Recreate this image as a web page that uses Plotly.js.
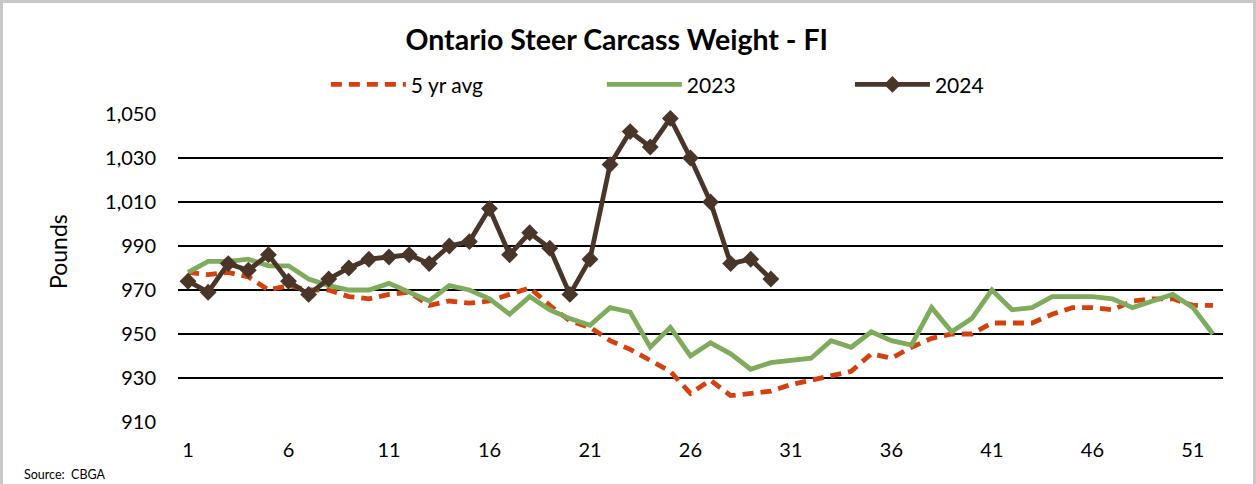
<!DOCTYPE html>
<html>
<head>
<meta charset="utf-8">
<script src="https://cdn.plot.ly/plotly-3.0.1.min.js"></script>
<style>
  html, body { margin: 0; padding: 0; background: #fff; }
  #wrap { position: relative; width: 1256px; height: 484px; }
  #chart { width: 1256px; height: 484px; }
  #frame { position: absolute; left: 0; top: 0; width: 1256px; height: 490px; box-sizing: border-box;
           border: 3px solid #c8c8c8; pointer-events: none; }
</style>
</head>
<body>
<div id="wrap"><div id="chart"></div><div id="frame"></div></div>
<script>
const weeks = Array.from({length: 52}, (_, i) => i + 1);
const fiveYrAvg = [978, 977, 978, 976, 970, 972, 970, 970, 967, 966,
                   968, 969, 963, 965, 964, 965, 968, 971, 963, 956,
                   953, 947, 943, 938, 933, 923, 929, 922, 923, 924,
                   927, 929, 931, 933, 941, 939, 944, 948, 950, 950,
                   955, 955, 955, 959, 962, 962, 961, 965, 966, 966, 963, 963];
const y2023 = [978, 983, 983, 984, 981, 981, 975, 972, 970, 970,
               973, 969, 965, 972, 970, 966, 959, 967, 961, 957,
               954, 962, 960, 944, 953, 940, 946, 941, 934, 937,
               938, 939, 947, 944, 951, 947, 945, 962, 951, 957,
               970, 961, 962, 967, 967, 967, 966, 962, 965, 968, 962, 950];
const y2024 = [974, 969, 982, 979, 986, 974, 968, 975, 980, 984,
               985, 986, 982, 990, 992, 1007, 986, 996, 989, 968,
               984, 1027, 1042, 1035, 1048, 1030, 1010, 982, 984, 975];
const xTicks = [1, 6, 11, 16, 21, 26, 31, 36, 41, 46, 51];
const yTicks = [910, 930, 950, 970, 990, 1010, 1030, 1050];
const seriesNames = ['5 yr avg', '2023', '2024'];

const FONT = 'Lato, sans-serif';

const traces = [
  {x: weeks, y: fiveYrAvg, name: seriesNames[0], type: 'scatter', mode: 'lines',
   line: {color: '#D5410E', width: 4.8, dash: '11px,7px'}, legend: 'legend', cliponaxis: false},
  {x: weeks, y: y2023, name: seriesNames[1], type: 'scatter', mode: 'lines',
   line: {color: '#7FAB5C', width: 4.8}, legend: 'legend2', cliponaxis: false},
  {x: weeks.slice(0, y2024.length), y: y2024, name: seriesNames[2], type: 'scatter', mode: 'lines+markers',
   line: {color: '#4A3628', width: 4.8}, marker: {symbol: 'diamond', size: 13, color: '#4A3628'},
   legend: 'legend3', cliponaxis: false}
];

const legBase = {orientation: 'h', yanchor: 'middle', y: 1.095, xanchor: 'left',
  font: {family: FONT, size: 21, color: '#000'}, bgcolor: 'rgba(0,0,0,0)', itemwidth: 75};

const layout = {
  width: 1256, height: 484,
  margin: {l: 178, r: 33, t: 114, b: 62},
  paper_bgcolor: '#fff', plot_bgcolor: '#fff',
  title: {text: '<b>Ontario Steer Carcass Weight - FI</b>', x: 0.491, xanchor: 'center', y: 0.918, yanchor: 'middle',
          font: {family: FONT, size: 28.5, color: '#000'}},
  showlegend: true,
  legend: Object.assign({}, legBase, {x: 0.1415}),
  legend2: Object.assign({}, legBase, {x: 0.4056}),
  legend3: Object.assign({}, legBase, {x: 0.643}),
  xaxis: {range: [0.5, 52.5], tickvals: xTicks, ticktext: xTicks.map(String), showgrid: false,
          zeroline: false, showline: false, ticks: '', ticklen: 0, ticklabelstandoff: 14,
          tickfont: {family: FONT, size: 20, color: '#000'}},
  yaxis: {range: [910, 1050], tickvals: yTicks, ticktext: yTicks.map(v => v.toLocaleString('en-US')),
          showgrid: true, gridcolor: '#000', gridwidth: 2, zeroline: false, showline: false, ticks: '',
          ticklabelstandoff: 21,
          tickfont: {family: FONT, size: 20, color: '#000'}},
  annotations: [
    {text: 'Pounds', xref: 'paper', yref: 'paper', x: -0.1148, y: 0.552, xanchor: 'center', yanchor: 'middle',
     textangle: -90, showarrow: false, font: {family: FONT, size: 23, color: '#000'}},
    {text: 'Source:  CBGA', xref: 'paper', yref: 'paper', x: -0.149, y: -0.14, xanchor: 'left', yanchor: 'top',
     showarrow: false, font: {family: FONT, size: 12.5, color: '#000'}}
  ]
};

Plotly.newPlot('chart', traces, layout, {displayModeBar: false, staticPlot: true});
</script>
</body>
</html>
